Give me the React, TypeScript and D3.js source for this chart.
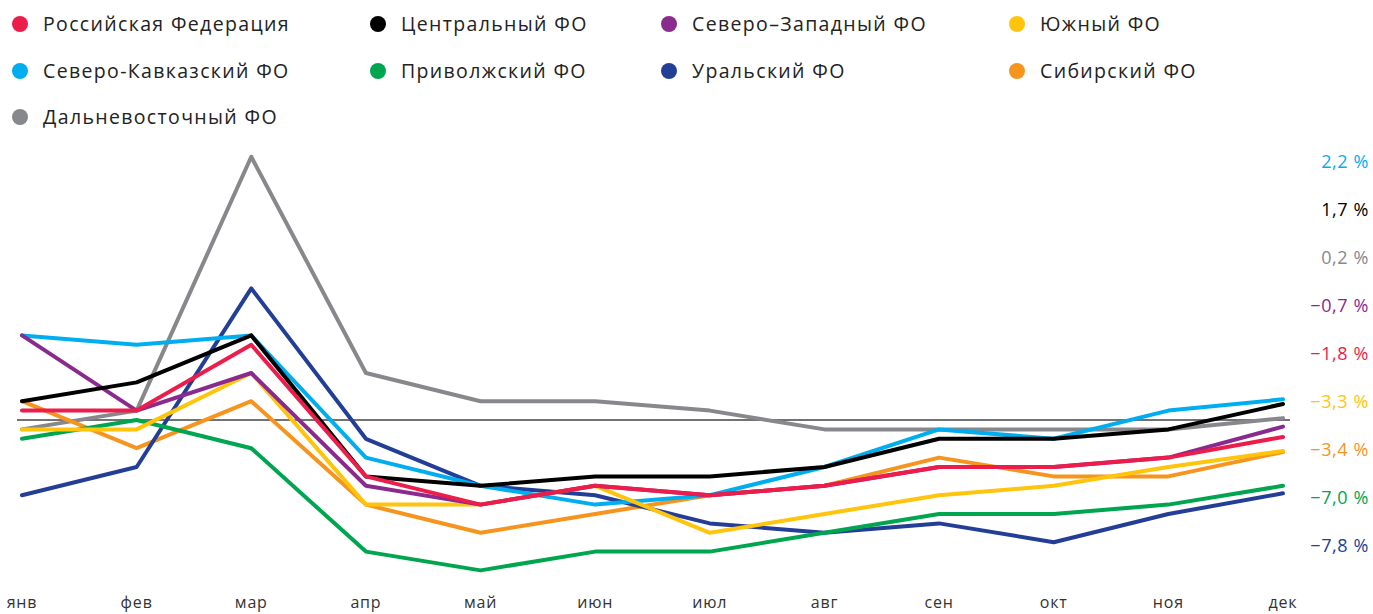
import React from 'react';
import * as d3 from 'd3';

const months = ['янв', 'фев', 'мар', 'апр', 'май', 'июн', 'июл', 'авг', 'сен', 'окт', 'ноя', 'дек'];

const seriesNames = [
  'Российская Федерация',
  'Центральный ФО',
  'Северо–Западный ФО',
  'Южный ФО',
  'Северо-Кавказский ФО',
  'Приволжский ФО',
  'Уральский ФО',
  'Сибирский ФО',
  'Дальневосточный ФО',
];

const seriesColors = ['#ec1c4b', '#000000', '#8a2a8e', '#ffc40c', '#00aeef', '#00a550', '#233e96', '#f7941e', '#87888b'];

const russia = [1, 1, 8, -6, -9, -7, -8, -7, -5, -5, -4, -1.8];
const central = [2, 4, 9, -6, -7, -6, -6, -5, -2, -2, -1, 1.7];
const northWest = [9, 1, 5, -7, -9, -7, -8, -7, -5, -5, -4, -0.7];
const south = [-1, -1, 5, -9, -9, -7, -12, -10, -8, -7, -5, -3.3];
const northCaucasus = [9, 8, 9, -4, -7, -9, -8, -5, -1, -2, 1, 2.2];
const volga = [-2, 0, -3, -14, -16, -14, -14, -12, -10, -10, -9, -7.0];
const ural = [-8, -5, 14, -2, -7, -8, -11, -12, -11, -13, -10, -7.8];
const siberia = [2, -3, 2, -9, -12, -10, -8, -7, -4, -6, -6, -3.4];
const farEast = [-1, 1, 28, 5, 2, 2, 1, -1, -1, -1, -1, 0.2];

const seriesValues = [russia, central, northWest, south, northCaucasus, volga, ural, siberia, farEast];

// labels on the right, top to bottom
const endLabels = ['2,2 %', '1,7 %', '0,2 %', '−0,7 %', '−1,8 %', '−3,3 %', '−3,4 %', '−7,0 %', '−7,8 %'];
const endLabelColors = ['#00aeef', '#000000', '#87888b', '#8a2a8e', '#ec1c4b', '#ffc40c', '#f7941e', '#00a550', '#233e96'];

const width = 1373;
const height = 614;
const font = "'Open Sans', 'Noto Sans', sans-serif";

const App = () => {
  const x = d3.scalePoint<string>().domain(months).range([22, 1283]);
  const y = d3.scaleLinear().domain([-16, 28]).range([570.4, 156.8]);

  const line = d3
    .line<number>()
    .x((_, i) => x(months[i]) as number)
    .y(d => y(d));

  const legendCols = [20, 378, 669, 1017];
  const legendRows = [24, 71, 117];

  // drawn in reverse so that the first series sits on top
  const order = d3.range(seriesNames.length).reverse();

  const labelY = d3.scalePoint<number>().domain(d3.range(endLabels.length)).range([162, 546]);

  return (
    <svg
      width={width}
      height={height}
      style={{ position: 'absolute', left: 0, top: 0, background: '#fff', display: 'block' }}
    >
      {/* legend */}
      <g>
        {seriesNames.map((name, i) => {
          const cx = legendCols[i % 4];
          const cy = legendRows[Math.floor(i / 4)];
          return (
            <g key={name} transform={`translate(${cx},${cy})`}>
              <circle r={8} fill={seriesColors[i]} />
              <text
                x={23}
                dy="0.35em"
                fontFamily={font}
                fontWeight={400}
                fontSize={19.5}
                letterSpacing={1.35}
                fill="#222"
              >
                {name}
              </text>
            </g>
          );
        })}
      </g>

      {/* zero line */}
      <line x1={17} x2={1290} y1={y(0)} y2={y(0)} stroke="#444" strokeWidth={1.5} />

      {/* series */}
      <g fill="none" strokeWidth={4} strokeLinejoin="round" strokeLinecap="round">
        {order.map(i => (
          <path key={seriesNames[i]} d={line(seriesValues[i]) || ''} stroke={seriesColors[i]} />
        ))}
      </g>

      {/* month labels */}
      <g>
        {months.map(m => (
          <text
            key={m}
            x={x(m)}
            y={608}
            textAnchor="middle"
            fontFamily={font}
            fontWeight={400}
            fontSize={16}
            letterSpacing={0.8}
            fill="#333"
          >
            {m}
          </text>
        ))}
      </g>

      {/* end labels */}
      <g>
        {endLabels.map((t, i) => (
          <text
            key={t}
            x={1369}
            y={labelY(i)}
            dy="0.35em"
            textAnchor="end"
            fontFamily={font}
            fontWeight={400}
            fontSize={18}
            letterSpacing={0.6}
            fill={endLabelColors[i]}
          >
            {t}
          </text>
        ))}
      </g>
    </svg>
  );
};

export default App;
